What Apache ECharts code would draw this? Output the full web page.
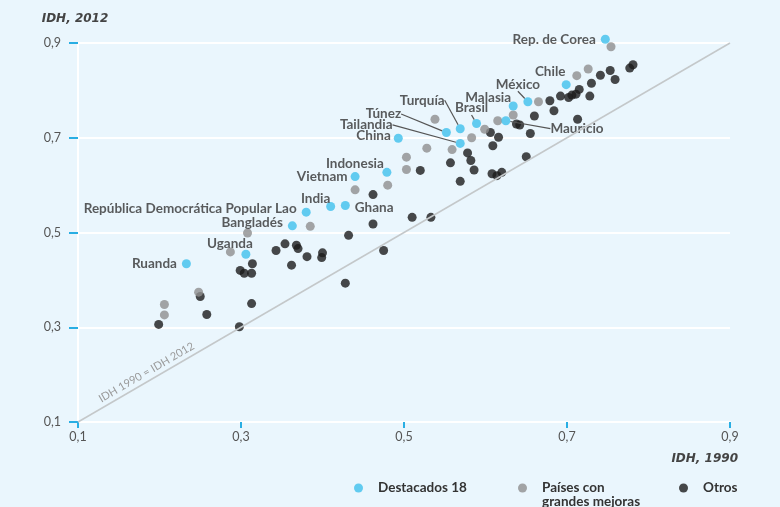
<!DOCTYPE html>
<html><head><meta charset="utf-8">
<script src="https://cdn.jsdelivr.net/npm/echarts/dist/echarts.min.js"></script>
<style>html,body{margin:0;padding:0;background:#eaf6fd}#c{width:780px;height:507px}</style>
</head><body><div id="c"></div><script>
// ---- data ----
const destacadosNames = ['Rep. de Corea','Chile','México','Malasia','Mauricio','Brasil','Turquía','Túnez','Tailandia','China','Indonesia','Vietnam','Ghana','India','República Democrática Popular Lao','Bangladés','Uganda','Ruanda'];
const destacadosIDH1990 = [0.747,0.699,0.652,0.634,0.625,0.589,0.569,0.552,0.569,0.493,0.479,0.440,0.428,0.410,0.380,0.363,0.306,0.233];
const destacadosIDH2012 = [0.908,0.812,0.776,0.767,0.736,0.730,0.719,0.711,0.688,0.699,0.627,0.618,0.557,0.555,0.543,0.514,0.454,0.434];
const grandesMejoras = [[0.754,0.892],[0.726,0.845],[0.712,0.831],[0.665,0.776],[0.634,0.748],[0.615,0.736],[0.599,0.718],[0.583,0.700],[0.559,0.675],[0.538,0.739],[0.528,0.678],[0.503,0.659],[0.503,0.633],[0.480,0.600],[0.440,0.590],[0.385,0.513],[0.308,0.499],[0.287,0.459],[0.248,0.374],[0.206,0.348],[0.206,0.326]];
const otros = [[0.199,0.306],[0.258,0.327],[0.250,0.365],[0.298,0.301],[0.313,0.350],[0.299,0.420],[0.304,0.414],[0.313,0.414],[0.314,0.434],[0.343,0.462],[0.354,0.476],[0.368,0.473],[0.370,0.466],[0.362,0.431],[0.381,0.449],[0.400,0.457],[0.399,0.447],[0.432,0.494],[0.428,0.393],[0.462,0.518],[0.475,0.462],[0.462,0.580],[0.520,0.631],[0.510,0.532],[0.533,0.532],[0.557,0.647],[0.578,0.668],[0.582,0.652],[0.586,0.632],[0.569,0.608],[0.609,0.683],[0.616,0.701],[0.606,0.711],[0.655,0.709],[0.650,0.660],[0.620,0.627],[0.614,0.620],[0.608,0.624],[0.642,0.727],[0.638,0.729],[0.660,0.746],[0.684,0.757],[0.679,0.778],[0.692,0.788],[0.702,0.785],[0.706,0.790],[0.711,0.792],[0.728,0.788],[0.715,0.802],[0.713,0.739],[0.730,0.815],[0.741,0.832],[0.753,0.842],[0.759,0.823],[0.777,0.847],[0.781,0.854]];
const identityLine = [0.1, 0.9];
const axisTicks = [0.1, 0.3, 0.5, 0.7, 0.9];
const seriesNames = ['Destacados 18', 'Países con\ngrandes mejoras', 'Otros'];

// ---- label placement (styles only): position + shift [dx,dy]; lead = draw guide line ----
const labelPlace = {
  'Rep. de Corea': {position:'left', shift:[0,0]},
  'Chile': {position:'top', shift:[-16,3]},
  'México': {position:'top', shift:[-10,-1], lead:true},
  'Malasia': {position:'top', shift:[-25,8]},
  'Mauricio': {position:'right', shift:[35,8], lead:true},
  'Brasil': {position:'top', shift:[-5,1], lead:true},
  'Turquía': {position:'top', shift:[-38,-12], lead:true},
  'Túnez': {position:'top', shift:[-63,-2], lead:true},
  'Tailandia': {position:'top', shift:[-94,-2], lead:true},
  'China': {position:'left', shift:[2,-3]},
  'Indonesia': {position:'top', shift:[-32,8]},
  'Vietnam': {position:'left', shift:[2,0]},
  'Ghana': {position:'right', shift:[0,2]},
  'India': {position:'top', shift:[-15,9]},
  'República Democrática Popular Lao': {position:'left', shift:[0,-3]},
  'Bangladés': {position:'left', shift:[0,-3]},
  'Uganda': {position:'top', shift:[-16,6]},
  'Ruanda': {position:'left', shift:[0,0]}
};

const FONT = 'Lato';
const NAMEFONT = 'DejaVu Sans';
const fmt = v => v.toFixed(1).replace('.', ',');

const destData = destacadosNames.map((n, i) => {
  const p = labelPlace[n];
  const item = {name: n, value: [destacadosIDH1990[i], destacadosIDH2012[i]],
    label: {show: true, position: p.position}};
  if (p.lead) item.labelLine = {show: true};
  return item;
});

const legendText = {color: '#333', fontSize: 13.5, fontWeight: 'bold', fontFamily: FONT, padding: [0,0,0,10], lineHeight: 14};
function legendAt(left, top, name, formatter) {
  const l = {
    left: left, top: top, icon: 'circle', itemWidth: 9, itemHeight: 9,
    selectedMode: false, padding: 0,
    textStyle: legendText,
    data: [name]
  };
  if (formatter) l.formatter = formatter;
  return l;
}

const chart = echarts.init(document.getElementById('c'));
chart.setOption({
  backgroundColor: '#eaf6fd',
  animation: false,
  grid: {left: 78, right: 50, top: 43, bottom: 85},
  xAxis: {
    type: 'value', min: axisTicks[0], max: axisTicks[axisTicks.length-1], interval: 0.2,
    axisLine: {show: true, lineStyle: {color: '#ffffff', width: 2}},
    axisTick: {show: true, inside: false, length: 6, lineStyle: {color: '#29aee3', width: 2}},
    axisLabel: {formatter: fmt, color: '#555', fontSize: 12.5, fontFamily: FONT, margin: 8},
    splitLine: {show: false}
  },
  yAxis: {
    type: 'value', min: axisTicks[0], max: axisTicks[axisTicks.length-1], interval: 0.2,
    name: 'IDH, 2012', nameLocation: 'end', nameGap: 18,
    nameTextStyle: {color: '#444', fontSize: 12, fontWeight: 'bold', fontStyle: 'italic', fontFamily: NAMEFONT, align: 'center', padding:[0,6,0,0]},
    axisLine: {show: true, lineStyle: {color: '#ffffff', width: 2}},
    axisTick: {show: true, inside: false, length: 9, lineStyle: {color: '#29aee3', width: 2}},
    axisLabel: {formatter: fmt, color: '#555', fontSize: 12.5, fontFamily: FONT, margin: 17},
    splitLine: {show: true, lineStyle: {color: '#ffffff', width: 2}}
  },
  legend: [
    legendAt(354, 481, seriesNames[0]),
    legendAt(518, 467, seriesNames[1], name => ' \n' + name),
    legendAt(679, 481, seriesNames[2])
  ],
  graphic: [{
    type: 'text', right: 42, top: 453,
    style: {text: 'IDH, 1990', fill: '#444', font: 'italic bold 12px "' + NAMEFONT + '"'}
  }],
  series: [
    {
      name: seriesNames[2], type: 'scatter', symbolSize: 9, z: 2, clip: false,
      itemStyle: {color: '#1b1b1b'},
      data: otros,
      markLine: {
        silent: true, symbol: 'none', animation: false,
        lineStyle: {color: '#c4c8ca', width: 1.5, type: 'solid'},
        label: {show: true, formatter: 'IDH 1990 = IDH 2012', position: 'insideStartTop', color: '#9a9a9a', fontSize: 11, fontFamily: FONT, distance: [30, 3]},
        data: [[{coord: [identityLine[0], identityLine[0]]}, {coord: [identityLine[1], identityLine[1]]}]]
      }
    },
    {
      name: seriesNames[1], type: 'scatter', symbolSize: 9, z: 3, clip: false,
      itemStyle: {color: '#8e8e8e'},
      data: grandesMejoras
    },
    {
      name: seriesNames[0], type: 'scatter', symbolSize: 9, z: 4, clip: false,
      itemStyle: {color: '#3fc0ec'},
      label: {show: true, formatter: '{b}', color: '#333', fontSize: 13.5, fontWeight: 'bold', fontFamily: FONT},
      labelLine: {show: false, lineStyle: {color: '#555', width: 1.2}},
      labelLayout: function (params) {
        const p = labelPlace[destacadosNames[params.dataIndex]];
        return {dx: p.shift[0], dy: p.shift[1]};
      },
      data: destData
    }
  ]
});
</script></body></html>
